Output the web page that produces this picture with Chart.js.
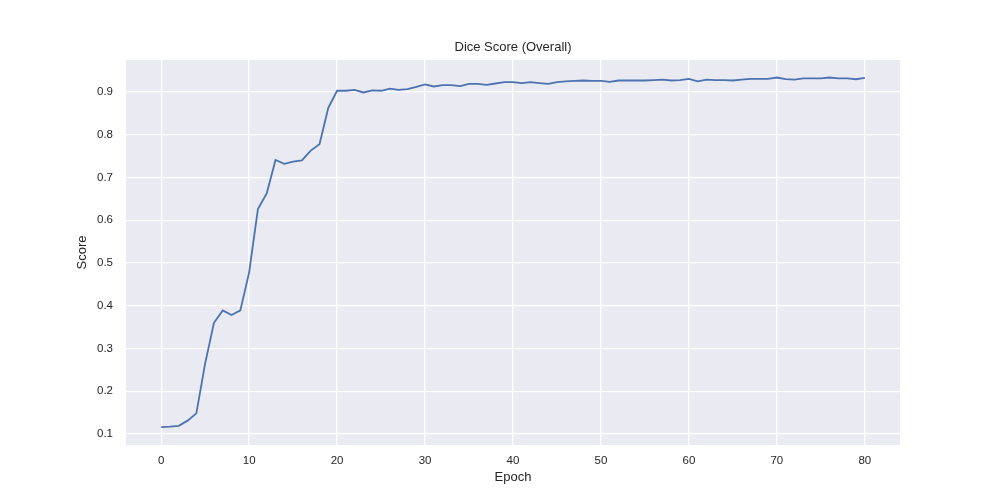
<!DOCTYPE html>
<html>
<head>
<meta charset="utf-8">
<script src="https://cdn.jsdelivr.net/npm/chart.js"></script>
<style>
body {
  margin: 0;
  background: #ffffff;
}
</style>
</head>
<body>

<canvas id="diceChart" width="1000" height="500"></canvas>

<script>

// ==========================
// data
// ==========================

const epochs = [
  0, 1, 2, 3, 4, 5, 6, 7, 8, 9,
  10, 11, 12, 13, 14, 15, 16, 17, 18, 19,
  20, 21, 22, 23, 24, 25, 26, 27, 28, 29,
  30, 31, 32, 33, 34, 35, 36, 37, 38, 39,
  40, 41, 42, 43, 44, 45, 46, 47, 48, 49,
  50, 51, 52, 53, 54, 55, 56, 57, 58, 59,
  60, 61, 62, 63, 64, 65, 66, 67, 68, 69,
  70, 71, 72, 73, 74, 75, 76, 77, 78, 79,
  80
];

const diceScores = [
  0.116, 0.117, 0.119, 0.131, 0.148, 0.265, 0.360, 0.389, 0.378, 0.389,
  0.478, 0.626, 0.663, 0.741, 0.732, 0.737, 0.740, 0.763, 0.778, 0.863,
  0.903, 0.903, 0.905, 0.899, 0.904, 0.903, 0.908, 0.905, 0.907, 0.912,
  0.918, 0.913, 0.916, 0.916, 0.914, 0.919, 0.919, 0.917, 0.920, 0.923,
  0.923, 0.921, 0.923, 0.921, 0.919, 0.923, 0.925, 0.926, 0.927, 0.926,
  0.926, 0.924, 0.927, 0.927, 0.927, 0.927, 0.928, 0.929, 0.927, 0.928,
  0.931, 0.925, 0.929, 0.928, 0.928, 0.927, 0.929, 0.931, 0.931, 0.931,
  0.934, 0.930, 0.929, 0.932, 0.932, 0.932, 0.934, 0.932, 0.932, 0.930,
  0.933
];

const xTicks = [0, 10, 20, 30, 40, 50, 60, 70, 80];
const yTicks = [0.1, 0.2, 0.3, 0.4, 0.5, 0.6, 0.7, 0.8, 0.9];

const chartTitle = "Dice Score (Overall)";
const xTitle = "Epoch";
const yTitle = "Score";


// ==========================
// plot background
// ==========================

const plotBackground = {
  id: "plotBackground",
  beforeDraw(chart) {
    const { ctx, chartArea } = chart;
    ctx.save();
    ctx.fillStyle = "#eaeaf2";
    ctx.fillRect(chartArea.left, chartArea.top,
      chartArea.right - chartArea.left, chartArea.bottom - chartArea.top);
    ctx.restore();
  }
};

const fontFamily = "'Liberation Sans', Arial, sans-serif";
const textColor = "#262626";

new Chart(document.getElementById("diceChart"), {

  type: "line",

  data: {
    datasets: [{
      data: epochs.map((e, i) => ({ x: e, y: diceScores[i] })),
      borderColor: "#4c72b0",
      borderWidth: 1.8,
      tension: 0,
      pointRadius: 0,
      fill: false
    }]
  },

  options: {
    responsive: false,
    animation: false,
    devicePixelRatio: 1,
    layout: {
      padding: { left: 0, right: 100, top: 0, bottom: 0 }
    },
    plugins: {
      legend: { display: false },
      tooltip: { enabled: false },
      title: {
        display: true,
        text: chartTitle,
        fullSize: false,
        color: textColor,
        font: { family: fontFamily, size: 13, weight: "normal", lineHeight: 1.2 },
        padding: { top: 39.2, bottom: 5.2 }
      }
    },
    scales: {
      x: {
        type: "linear",
        min: -4,
        max: 84,
        afterBuildTicks: scale => {
          scale.ticks = xTicks.map(v => ({ value: v }));
        },
        afterFit: scale => {
          scale.height = 55;
        },
        grid: {
          color: "#ffffff",
          lineWidth: 1.3,
          drawTicks: false
        },
        border: { display: false },
        ticks: {
          color: textColor,
          padding: 9,
          maxRotation: 0,
          autoSkip: false,
          font: { family: fontFamily, size: 11.5 }
        },
        title: {
          display: true,
          text: xTitle,
          color: textColor,
          font: { family: fontFamily, size: 13 },
          padding: { top: 15.2, bottom: 15.2 }
        }
      },
      y: {
        type: "linear",
        min: 0.074,
        max: 0.975,
        afterBuildTicks: scale => {
          scale.ticks = yTicks.map(v => ({ value: v }));
        },
        afterFit: scale => {
          scale.width = 126;
        },
        grid: {
          color: "#ffffff",
          lineWidth: 1.3,
          drawTicks: false
        },
        border: { display: false },
        ticks: {
          color: textColor,
          padding: 13,
          autoSkip: false,
          font: { family: fontFamily, size: 11.5 },
          callback: v => v.toFixed(1)
        },
        title: {
          display: true,
          text: yTitle,
          color: textColor,
          font: { family: fontFamily, size: 13 },
          padding: { top: 75, bottom: 75 }
        }
      }
    }
  },

  plugins: [plotBackground]

});

</script>

</body>
</html>
